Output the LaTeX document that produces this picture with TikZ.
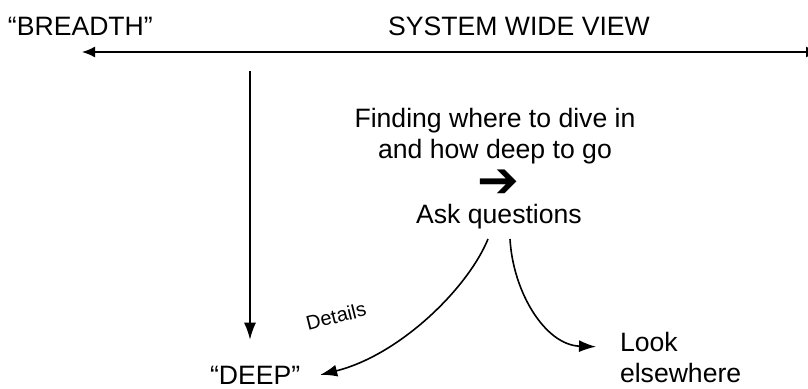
\documentclass[tikz,border=0pt]{standalone}
\usepackage{fontspec}
\setmainfont{Liberation Sans}
\newfontfamily\symfont{DejaVu Sans}
\usetikzlibrary{arrows.meta}
\begin{document}
\begin{tikzpicture}[x=1pt,y=-1pt,
  lbl/.style={inner sep=0pt,outer sep=0pt,font=\fontsize{26.6}{31}\selectfont},
  small/.style={inner sep=0pt,font=\fontsize{20}{24}\selectfont},
  conn/.style={line width=1.6pt,-{Latex[length=17pt,width=12pt]}},
  axis/.style={line width=1.6pt,{Latex[length=13pt,width=11pt]}-{Latex[length=13pt,width=11pt]}}]
\useasboundingbox (0,0) rectangle (808,388);

% headings
\node[lbl,anchor=base west] (breadth) at (8,35) {“BREADTH”};
\node[lbl,anchor=base] (system) at (519,35) {SYSTEM WIDE VIEW};

% system-wide axis
\coordinate (axL) at (82,52);
\coordinate (axR) at (819,52);
\draw[axis] (axL) -- (axR);

% depth axis
\coordinate (vtop) at (250,71);
\node[lbl,anchor=base west] (deep) at (210,384) {“DEEP”};
\draw[conn] (vtop) -- ([yshift=26pt]vtop |- deep.north);

% central question block
\node[lbl,align=center,anchor=base] (finding) at (495,158) {Finding where to dive in\\and how deep to go};
\node[inner sep=0pt,font=\symfont\fontsize{50}{50}\selectfont] (arrowsym) at (498,184) {➔};
\node[lbl,anchor=base] (ask) at (499,223) {Ask questions};

\node[lbl,anchor=base west,align=left] (look) at (620,382) {Look\\elsewhere};

% branches from the question
\coordinate (q1) at (488,239);
\coordinate (q2) at (510,239);
\draw[conn] (q1) .. controls (468,288) and (400,355) .. ([xshift=20pt]deep.east);
\draw[conn] (q2) .. controls (513,292) and (545,345) .. ([xshift=-24pt,yshift=-15pt]look.north west);

\node[small,rotate=14] (details) at (336,316) {Details};
\end{tikzpicture}
\end{document}
